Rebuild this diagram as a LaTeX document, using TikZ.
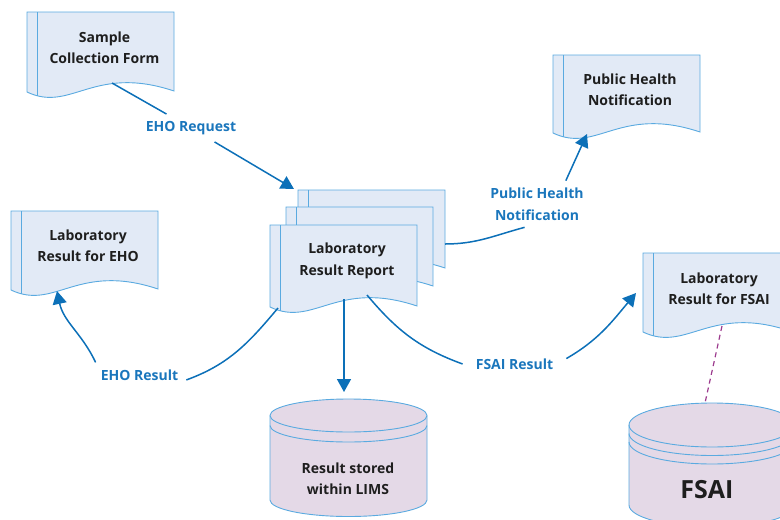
\documentclass[tikz,border=0pt]{standalone}
\usepackage{fontspec}
\setmainfont{Open Sans}
\usetikzlibrary{arrows.meta}
\definecolor{docfill}{HTML}{E2EAF6}
\definecolor{docline}{HTML}{5AAAE0}
\definecolor{connblue}{HTML}{0C70B8}
\definecolor{lblblue}{HTML}{1A76BC}
\definecolor{dbfill}{HTML}{E4D9E7}
\definecolor{dashpurple}{HTML}{9C3B8E}
\definecolor{ink}{HTML}{1E1E1E}

\newcommand\DocShape[3]{% x, y (px, downwards), height
  \begin{scope}[shift={(#1,-#2)}]
    \path[docshape] (0,0) -- (147,0) -- (147,-#3+1)
      .. controls (66.15,-#3+28) and (44.1,-#3-21) .. (0,-#3) -- cycle;
    \draw[docedge] (10,0) -- (10,-#3-3.5);
  \end{scope}}

\newcommand\DBShape[6]{% cx, top-centre y, rx, ry, bottom y, extra ring offsets
  \path[dbshape] (#1-#3,-#2) -- (#1-#3,-#5)
     arc[start angle=180,end angle=360,x radius=#3,y radius=#4]
     -- (#1+#3,-#2)
     arc[start angle=0,end angle=180,x radius=#3,y radius=#4] -- cycle;
  \draw[docedge] (#1-#3,-#2) arc[start angle=180,end angle=360,x radius=#3,y radius=#4];
  \foreach \o in {#6} {
    \draw[docedge] (#1-#3,-#2-\o) arc[start angle=180,end angle=360,x radius=#3,y radius=#4];
  }}

\begin{document}
\begin{tikzpicture}[x=1pt,y=1pt,
  docshape/.style={fill=docfill,draw=docline,line width=0.9pt},
  docedge/.style={draw=docline,line width=0.9pt},
  dbshape/.style={fill=dbfill,draw=docline,line width=0.9pt},
  doctext/.style={font=\bfseries\fontsize{14}{21.5}\selectfont,align=center,text=ink,inner sep=0pt},
  conlabel/.style={font=\bfseries\fontsize{14}{21.5}\selectfont,align=center,text=lblblue,inner xsep=8pt,inner ysep=7pt},
  conn/.style={draw=connblue,line width=1.5pt},
  arr/.style={-{Triangle[length=13pt,width=14pt]}},
  dashline/.style={draw=dashpurple,line width=1.2pt,dash pattern=on 5pt off 4pt}]
\useasboundingbox (0,0) rectangle (780,-520);
\clip (0,0) rectangle (780,-520);

% documents
\DocShape{27}{12}{80}
\DocShape{298}{190}{79}
\DocShape{286}{207}{80}
\DocShape{270}{225}{82}
\DocShape{553}{55}{78}
\DocShape{11}{211}{79}
\DocShape{643}{253}{79}

% databases
\DBShape{348.5}{415.5}{78.5}{16.5}{500}{10}
\DBShape{712}{425}{83}{22}{505}{8.5,17}

% texts
\node[doctext] (scf) at (104.5,-47.5) {Sample\\Collection Form};
\node[doctext] (rep) at (347,-261) {Laboratory\\Result Report};
\node[doctext] (phn) at (630,-89.5) {Public Health\\Notification};
\node[doctext] (eho) at (88,-245.5) {Laboratory\\Result for EHO};
\node[doctext] (fsaidoc) at (719,-288.5) {Laboratory\\Result for FSAI};
\node[doctext] (lims) at (348,-478.5) {Result stored\\within LIMS};
\node[doctext,font=\bfseries\fontsize{25}{30}\selectfont] (fsaidb) at (707,-490) {FSAI};

% connector labels
\node[conlabel] (lreq) at (191,-128) {EHO Request};
\node[conlabel] (lphn) at (537,-204) {Public Health\\Notification};
\node[conlabel] (lehores) at (139.5,-375) {EHO Result};
\node[conlabel,inner xsep=13pt] (lfsaires) at (514.5,-364) {FSAI Result};

% attachment points
\coordinate (scf-out) at (112,-83);
\coordinate (rep-in) at (294,-189);
\coordinate (rep-phn) at (445,-244);
\coordinate (phn-in) at (587,-134);
\coordinate (rep-eho) at (278,-308);
\coordinate (eho-in) at (57,-291);
\coordinate (rep-fsai) at (367,-295);
\coordinate (fsai-in) at (636,-293);
\coordinate (rep-lims) at (344,-299);
\coordinate (lims-in) at (344,-392);
\coordinate (fsaidoc-out) at (722,-326);
\coordinate (fsaidb-in) at (705,-403);

% connectors
\draw[conn] (scf-out) -- (lreq);
\draw[conn,arr] (lreq) -- (rep-in);
\draw[conn] (rep-phn) to[out=0,in=195] (lphn.242);
\draw[conn,arr] (lphn.39) -- (phn-in);
\draw[conn] (rep-eho) to[out=230,in=20] (lehores.-6);
\draw[conn,arr] (lehores.164) to[out=115,in=-78] (eho-in);
\draw[conn] (rep-fsai) to[out=-50,in=160] (lfsaires.west);
\draw[conn,arr] (lfsaires.6) to[out=30,in=230] (fsai-in);
\draw[conn,arr] (rep-lims) -- (lims-in);
\draw[dashline] (fsaidoc-out) -- (fsaidb-in);
\end{tikzpicture}
\end{document}
